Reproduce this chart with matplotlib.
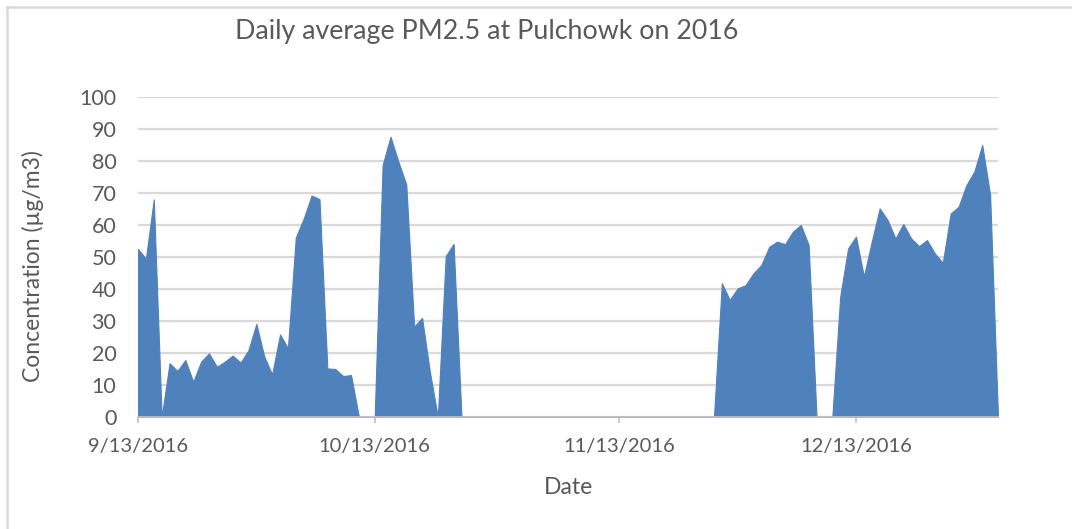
import matplotlib
matplotlib.use("Agg")
import matplotlib.pyplot as plt
from matplotlib.lines import Line2D
import pandas as pd

plt.rcParams['font.family'] = ['Lato', 'DejaVu Sans']

start_date = "2016-09-13"
pm25 = [
    52.5, 49.5, 68, 0, 16.8, 14.4, 17.8, 11, 17.3, 19.9,
    15.7, 17.3, 19.2, 17, 20.9, 29.1, 18.9, 13.3, 25.8, 21.5,
    56.1, 62, 69.2, 68.1, 15.2, 15, 12.8, 13.1, 0, 0,
    0, 78.7, 87.6, 79.8, 72.7, 28.2, 31, 14, 0, 50.3,
    54.1, 0, 0, 0, 0, 0, 0, 0, 0, 0,
    0, 0, 0, 0, 0, 0, 0, 0, 0, 0,
    0, 0, 0, 0, 0, 0, 0, 0, 0, 0,
    0, 0, 0, 0, 41.8, 36.6, 40.2, 41.2, 44.9, 47.5,
    53.2, 54.8, 54, 57.9, 60, 53.8, 0, 0, 0, 37.6,
    52.7, 56.4, 43.9, 54.8, 65.2, 61.6, 55.8, 60.3, 55.8, 53.4,
    55.3, 51.1, 48.2, 63.6, 65.7, 72.5, 76.7, 85, 69.4, 0,
]
tick_dates = ["2016-09-13", "2016-10-13", "2016-11-13", "2016-12-13"]
tick_labels = ["9/13/2016", "10/13/2016", "11/13/2016", "12/13/2016"]
y_ticks = [0, 10, 20, 30, 40, 50, 60, 70, 80, 90, 100]

title = "Daily average PM2.5 at Pulchowk on 2016"
x_label = "Date"
y_label = "Concentration (\u00b5g/m3)"

dates = pd.date_range(start_date, periods=len(pm25), freq="D")

W, H = 1072, 529
fig = plt.figure(figsize=(W / 100, H / 100), dpi=100)
ax = fig.add_axes([138 / W, 1 - 417 / H, (998 - 138) / W, (417 - 97) / H])

text_col = "#595959"
fill_col = "#4F81BD"
grid_col = "#D9D9D9"

ax.fill_between(dates, pm25, 0, color=fill_col, linewidth=0.8, edgecolor=fill_col)
ax.set_xlim(dates[0], dates[-1])
ax.set_ylim(0, 100)
ax.set_yticks(y_ticks)
ax.yaxis.grid(True, color=grid_col, linewidth=1.6)
ax.set_axisbelow(True)
for s in ["top", "right", "left"]:
    ax.spines[s].set_visible(False)
ax.spines["bottom"].set_color("#BFBFBF")
ax.spines["bottom"].set_linewidth(1.3)

ax.set_xticks(pd.to_datetime(tick_dates))
ax.set_xticklabels(tick_labels)
ax.tick_params(axis="x", length=4, color="#BFBFBF", width=1.2, pad=11,
               labelsize=14.5, labelcolor=text_col)
ax.tick_params(axis="y", length=0, pad=15.5, labelsize=15.5, labelcolor=text_col)

fig.text(487 / W, 1 - 32 / H, title, ha="center", va="center",
         fontsize=19.3, color=text_col)
fig.text(568 / W, 1 - 488 / H, x_label, ha="center", va="center",
         fontsize=16.5, color=text_col)
fig.text(33 / W, 1 - 266 / H, y_label, ha="center", va="center",
         rotation=90, fontsize=16.5, color=text_col)

# chart area frame (cropped on right/bottom)
fig.add_artist(Line2D([7 / W, 7 / W], [0, 1 - 7 / H], transform=fig.transFigure,
                      color="#D9D9D9", linewidth=1.8))
fig.add_artist(Line2D([7 / W, 1], [1 - 7 / H, 1 - 7 / H], transform=fig.transFigure,
                      color="#D9D9D9", linewidth=1.8))

fig.savefig("out.png", dpi=100)
